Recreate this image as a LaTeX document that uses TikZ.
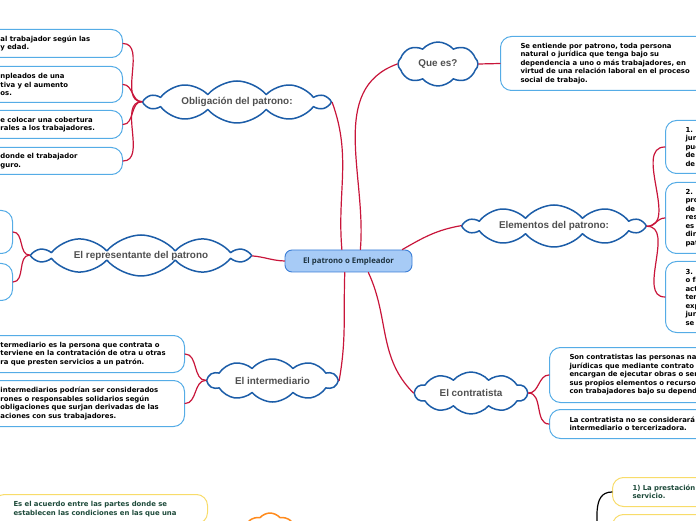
\documentclass[tikz,border=0pt]{standalone}
\usepackage{fontspec}
\usetikzlibrary{shapes.symbols,positioning}
\newfontfamily\leaffont{DejaVu Sans}
\newfontfamily\topicfont{Liberation Sans}
\newfontfamily\rootfont{Open Sans}
\definecolor{mpRed}{HTML}{C8153A}
\definecolor{mpCloud}{HTML}{1C5DA8}
\definecolor{mpLeaf}{HTML}{55ACE6}
\definecolor{mpRootFill}{HTML}{A7CBF6}
\definecolor{mpRootLine}{HTML}{3B7ED6}
\definecolor{mpGray}{HTML}{505050}
\definecolor{mpInk}{HTML}{1E3340}
\definecolor{mpGreen}{HTML}{1D4A3A}
\definecolor{mpYellow}{HTML}{F8DC6A}
\definecolor{mpOrange}{HTML}{FF8A1C}
\tikzset{
 map/.style={line cap=round,line join=round},
 root/.style={rectangle,rounded corners=7pt,draw=mpRootLine,fill=mpRootFill,line width=.9pt,
   minimum width=127pt,minimum height=22pt,inner sep=0pt,
   font=\rootfont\bfseries\fontsize{7.8}{9}\selectfont,text=mpInk},
 topic/.style={cloud,cloud puffs=10,cloud puff arc=100,cloud ignores aspect,draw=mpCloud,fill=white,
   line width=1.5pt,inner sep=0pt,font=\topicfont\bfseries\fontsize{9.9}{11}\selectfont,text=mpGray},
 leaf/.style={rectangle,rounded corners=11pt,draw=mpLeaf,fill=white,line width=1pt,inner xsep=20pt,
   inner ysep=0pt,align=left,font=\leaffont\bfseries\fontsize{6.9}{8.5}\selectfont,text=black},
 yleaf/.style={leaf,draw=mpYellow,text=mpGreen},
 link/.style={draw=mpRed,line width=1.2pt},
 blacklink/.style={draw=black,line width=1.2pt}
}

\begin{document}
\begin{tikzpicture}[map,x=1pt,y=1pt]
 \useasboundingbox (0,0) rectangle (696,520);
 \clip (0,0) rectangle (696,520);
 \node[root] (patrono) at (348.5,259) {El patrono o Empleador};
 \node[topic,minimum width=182pt,minimum height=42pt] (oblig) at (237,418) {Obligación del patrono:};
 \node[topic,cloud puffs=8,minimum width=80pt,minimum height=44pt] (quees) at (438,456) {Que es?};
 \node[topic,minimum width=178pt,minimum height=42pt] (elem) at (554,294) {Elementos del patrono:};
 \node[topic,minimum width=212pt,minimum height=41pt] (repres) at (141,264.5) {El representante del patrono};
 \node[topic,minimum width=129pt,minimum height=43pt] (interm) at (272.5,139.5) {El intermediario};
 \node[topic,minimum width=112pt,minimum height=42pt] (contr) at (471,127) {El contratista};
 \node[topic,draw=mpOrange,cloud puffs=8,minimum width=56pt,minimum height=48pt] (acuerdo) at (270,-17) {};

 \node[leaf,anchor=north east,text width=102pt,minimum height=28pt] (o1) at (123,491) {al trabajador según las\\y edad.};
 \node[leaf,anchor=north east,text width=102pt,minimum height=36pt] (o2) at (123,454) {npleados de una\\tiva y el aumento\\os.};
 \node[leaf,anchor=north east,text width=102pt,minimum height=28pt] (o3) at (123,410) {e colocar una cobertura\\rales a los trabajadores.};
 \node[leaf,anchor=north east,text width=102pt,minimum height=27pt] (o4) at (123,373) {donde el trabajador\\guro.};

 \node[leaf,anchor=north west,text width=200pt,minimum height=54pt] (qbox) at (500,484) {Se entiende por patrono, toda persona\\natural o jurídica que tenga bajo su\\dependencia a uno o más trabajadores, en\\virtud de una relación laboral en el proceso\\social de trabajo.};

 \node[leaf,anchor=north west,text width=60pt,minimum height=53pt] (e1) at (665,400) {1.\\jur\\pue\\de\\de};
 \node[leaf,anchor=north west,text width=60pt,minimum height=71pt] (e2) at (665,338) {2.\\pro\\de\\res\\es\\dir\\pat};
 \node[leaf,anchor=north west,text width=60pt,minimum height=71pt] (e3) at (665,259) {3.\\o fa\\act\\tem\\exp\\jur\\se};

 \node[leaf,anchor=north east,text width=40pt,minimum height=43pt] (r1) at (13,310) {};
 \node[leaf,anchor=north east,text width=40pt,minimum height=37pt] (r2) at (13,257) {};

 \node[leaf,anchor=north east,inner xsep=12pt,text width=172pt,minimum height=37pt] (i1) at (185,185) {termediario es la persona que contrata o\\terviene en la contratación de otra u otras\\ra que presten servicios a un patrón.};
 \node[leaf,anchor=north east,inner xsep=12pt,text width=172pt,minimum height=46pt] (i2) at (185,140) {intermediarios podrían ser considerados\\rones o responsables solidarios según\\obligaciones que surjan derivadas de las\\aciones con sus trabajadores.};

 \node[leaf,anchor=north west,text width=160pt,minimum height=55pt] (c1) at (549,173) {Son contratistas las personas na\\jurídicas que mediante contrato\\encargan de ejecutar obras o ser\\sus propios elementos o recurso\\con trabajadores bajo su depend};
 \node[leaf,anchor=north west,text width=160pt,minimum height=29pt] (c2) at (549,111) {La contratista no se considerará\\intermediario o tercerizadora.};

 \node[yleaf,anchor=north west,inner ysep=7pt,text width=174pt] (y1) at (-7,26) {Es el acuerdo entre las partes donde se\\establecen las condiciones en las que una\\};
 \node[yleaf,anchor=north west,text width=100pt,minimum height=29pt] (b1) at (612,43) {1) La prestación\\servicio.};
 \node[yleaf,anchor=north west,text width=100pt,minimum height=30pt] (b2) at (612,6) {};
 \coordinate (broot) at (597,-25);

 \draw[link] (patrono.120) to[out=95,in=-70] (oblig.east);
 \draw[link] (patrono.44) to[out=85,in=200] (quees.west);
 \draw[link] (patrono.12) to[out=30,in=190] (elem.west);
 \draw[link] (patrono.west) to[out=178,in=-5] (repres.east);
 \draw[link] (patrono.252) to[out=-92,in=80] (interm.east);
 \draw[link] (patrono.330) to[out=-65,in=135] (contr.west);
 \draw[link] (quees.east) -- (qbox.west);
 \foreach \n in {o1,o2,o3,o4} \draw[link] (oblig.west) to[out=180,in=0] (\n.east);
 \foreach \n in {e1,e2,e3} \draw[link] (elem.east) to[out=0,in=180] (\n.west);
 \foreach \n in {r1,r2} \draw[link] (repres.west) to[out=180,in=0] (\n.east);
 \foreach \n in {i1,i2} \draw[link] (interm.west) to[out=180,in=0] (\n.east);
 \foreach \n in {c1,c2} \draw[link] (contr.east) to[out=0,in=180] (\n.west);
 \draw[blacklink] (broot) to[out=85,in=180] (b1.west);
\end{tikzpicture}
\end{document}
